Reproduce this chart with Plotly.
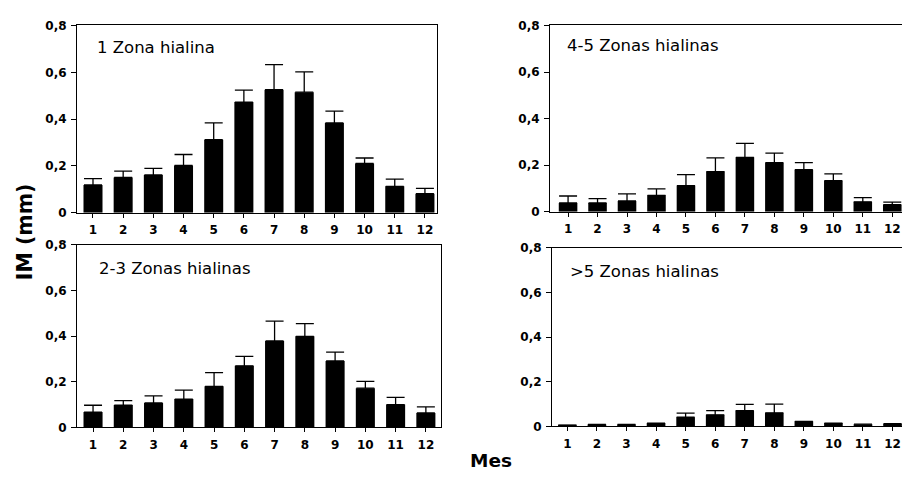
import plotly.graph_objects as go

months = [1, 2, 3, 4, 5, 6, 7, 8, 9, 10, 11, 12]
month_labels = ["1", "2", "3", "4", "5", "6", "7", "8", "9", "10", "11", "12"]

titles = ["1 Zona hialina", "4-5 Zonas hialinas", "2-3 Zonas hialinas", ">5 Zonas hialinas"]

im_1 = [0.119, 0.151, 0.162, 0.202, 0.312, 0.473, 0.526, 0.515, 0.384, 0.211, 0.113, 0.082]
err_1 = [0.027, 0.027, 0.028, 0.047, 0.072, 0.051, 0.107, 0.087, 0.050, 0.023, 0.031, 0.022]

im_45 = [0.038, 0.038, 0.047, 0.071, 0.113, 0.173, 0.234, 0.211, 0.181, 0.134, 0.043, 0.031]
err_45 = [0.030, 0.019, 0.030, 0.028, 0.047, 0.059, 0.060, 0.041, 0.030, 0.029, 0.018, 0.011]

im_23 = [0.067, 0.098, 0.107, 0.124, 0.180, 0.270, 0.379, 0.399, 0.291, 0.172, 0.100, 0.063]
err_23 = [0.030, 0.019, 0.031, 0.039, 0.060, 0.041, 0.087, 0.056, 0.039, 0.030, 0.032, 0.027]

im_5 = [0.006, 0.009, 0.009, 0.015, 0.041, 0.052, 0.071, 0.061, 0.023, 0.015, 0.010, 0.012]
err_5 = [0.0, 0.0, 0.0, 0.0, 0.019, 0.019, 0.028, 0.039, 0.0, 0.0, 0.0, 0.0]

W, H = 902, 481

# panel boxes in pixels: (left, right, top, bottom)
panels = [
    (77, 437, 19, 212),
    (550, 902, 19, 211),
    (77, 441, 245, 433),
    (552, 902, 248, 432),
]
xranges = [[0.47, 12.40], [0.387, 12.33], [0.47, 12.5], [0.48, 12.32]]
title_pos = [(95, 42), (565, 40), (97, 269), (568, 272)]
series = [(im_1, err_1), (im_45, err_45), (im_23, err_23), (im_5, err_5)]

fig = go.Figure()
font_tick = dict(family="DejaVu Sans", size=12, color="black", weight="bold")

for i, ((l, r, t, b), (vals, errs)) in enumerate(zip(panels, series)):
    n = "" if i == 0 else str(i + 1)
    fig.add_trace(go.Bar(
        x=months, y=vals, width=0.63,
        marker=dict(color="black", line=dict(width=0)),
        error_y=dict(type="data", array=errs, arrayminus=[0] * 12, symmetric=False,
                     color="black", thickness=1.3, width=9),
        xaxis="x" + n, yaxis="y" + n, showlegend=False,
    ))
    left_side = i in (0, 2)
    fig.layout["xaxis" + n] = dict(
        domain=[l / W, r / W], range=xranges[i], anchor="y" + n,
        tickvals=months, ticktext=month_labels, ticks="outside", ticklen=4,
        tickcolor="black", tickwidth=1, showline=True, linecolor="black", linewidth=1,
        mirror=True, showgrid=False, zeroline=False, tickfont=font_tick,
        ticklabelstandoff=2, fixedrange=True,
    )
    fig.layout["yaxis" + n] = dict(
        domain=[1 - b / H, 1 - t / H], range=[0, 0.8], anchor="x" + n,
        dtick=0.2, tick0=0, ticks="outside", ticklen=5, tickcolor="black", tickwidth=1,
        showline=True, linecolor="black", linewidth=1, mirror=left_side,
        showgrid=False, zeroline=False, tickfont=font_tick, ticklabelstandoff=2,
    )
    tx, ty = title_pos[i]
    fig.add_annotation(text=titles[i], x=tx / W, y=1 - ty / H, xref="paper", yref="paper",
                       xanchor="left", yanchor="middle", showarrow=False,
                       font=dict(family="DejaVu Sans", size=16.5, color="black"))

fig.add_annotation(text="IM (mm)", x=25 / W, y=1 - 232 / H, xref="paper", yref="paper",
                   textangle=-90, showarrow=False, xanchor="center", yanchor="middle",
                   font=dict(family="DejaVu Sans", size=20.5, color="black", weight="bold"))
fig.add_annotation(text="Mes", x=491 / W, y=1 - 467 / H, xref="paper", yref="paper",
                   showarrow=False, xanchor="center", yanchor="middle",
                   font=dict(family="DejaVu Sans", size=18.5, color="black", weight="bold"))

fig.update_layout(
    width=W, height=H, margin=dict(l=0, r=0, t=0, b=0),
    paper_bgcolor="white", plot_bgcolor="white", separators=",.",
    bargap=0.37,
)

fig.write_html("out.html")
